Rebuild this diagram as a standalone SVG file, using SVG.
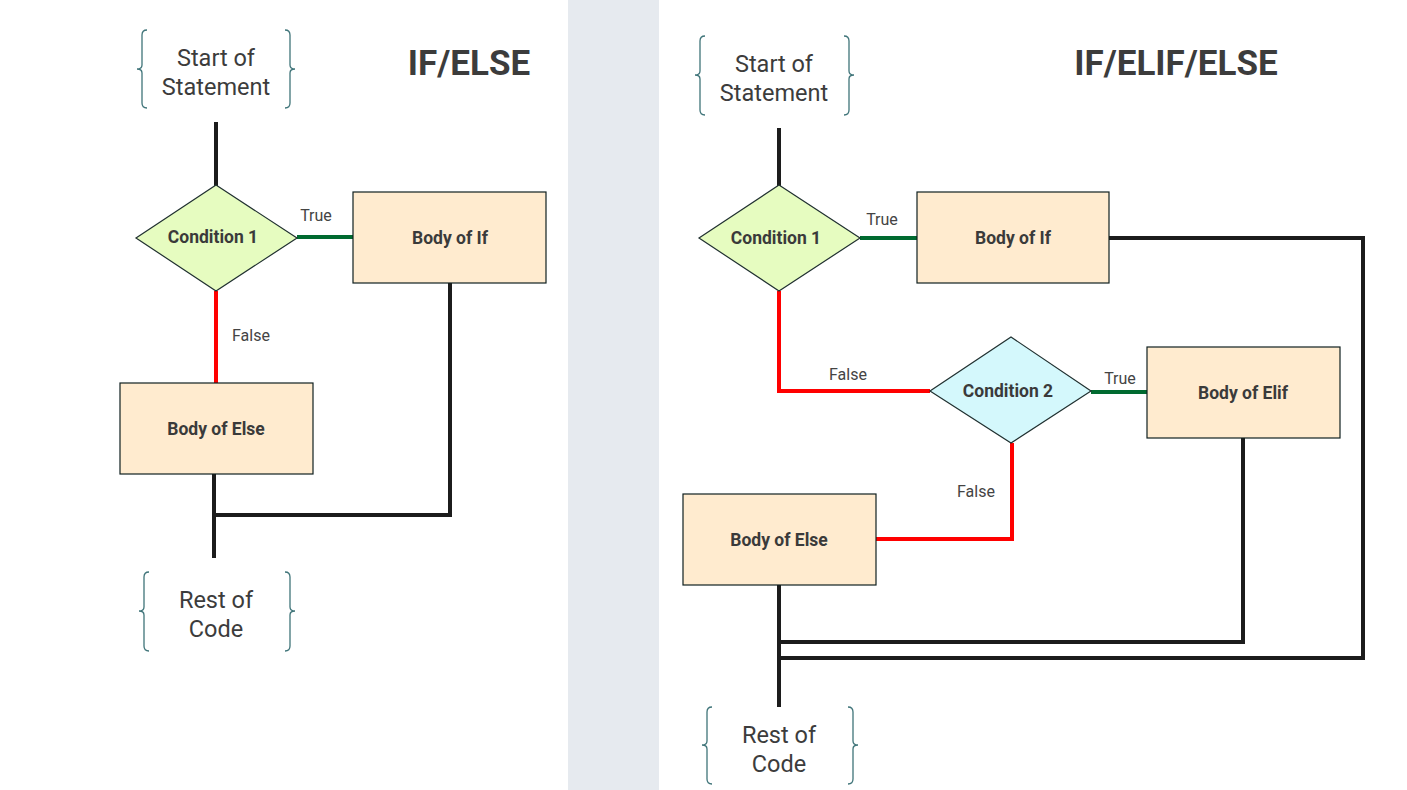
<svg xmlns="http://www.w3.org/2000/svg" width="1407" height="790" viewBox="0 0 1407 790">
<defs>
<style>
.bg{fill:#ffffff}
.band{fill:#e6eaef}
.brace{fill:none;stroke:#3f7479;stroke-width:1.3}
.term{font-family:Roboto,"Liberation Sans",sans-serif;font-size:23.5px;fill:#3c3c3c;text-anchor:middle}
.title{font-family:Roboto,"Liberation Sans",sans-serif;font-size:35px;font-weight:bold;fill:#3c3c3c;text-anchor:middle}
.lbl{font-family:Roboto,"Liberation Sans",sans-serif;font-size:17.5px;font-weight:bold;fill:#3a3a3a;text-anchor:middle;dominant-baseline:central}
.edge{font-family:Roboto,"Liberation Sans",sans-serif;font-size:16px;fill:#444;text-anchor:middle;dominant-baseline:central}
.box{fill:#ffebcf;stroke:#102020;stroke-width:1.2}
.dia1{fill:#e6fcc0;stroke:#203030;stroke-width:1.2}
.dia2{fill:#d4f8fc;stroke:#203030;stroke-width:1.2}
.blk{fill:none;stroke:#1c1c1c;stroke-width:4}
.red{fill:none;stroke:#ff0000;stroke-width:4}
.grn{fill:none;stroke:#006a30;stroke-width:4}
</style>
</defs>
<rect class="bg" x="0" y="0" width="1407" height="790"/>
<rect class="band" x="568" y="0" width="91" height="790"/>

<g id="connectors">
<line class="blk" x1="216" y1="122" x2="216" y2="186"/>
<line class="grn" x1="297" y1="237" x2="353" y2="237"/>
<line class="red" x1="216" y1="291" x2="216" y2="383"/>
<polyline class="blk" points="214,474 214,558"/>
<polyline class="blk" points="214,515 450,515 450,283"/>
<line class="blk" x1="779" y1="128" x2="779" y2="186"/>
<line class="grn" x1="860" y1="238" x2="917" y2="238"/>
<polyline class="blk" points="1109,238 1363,238 1363,658 779,658"/>
<polyline class="red" points="779,291 779,391 930,391"/>
<line class="grn" x1="1091" y1="392" x2="1147" y2="392"/>
<polyline class="blk" points="1243,438 1243,642 779,642"/>
<polyline class="red" points="1012,443 1012,539 876,539"/>
<line class="blk" x1="779" y1="585" x2="779" y2="707"/>
<text class="edge" x="316" y="215">True</text>
<text class="edge" x="251" y="335">False</text>
<text class="edge" x="882" y="219">True</text>
<text class="edge" x="848" y="374">False</text>
<text class="edge" x="1120" y="378">True</text>
<text class="edge" x="976" y="491">False</text>
</g>

<g id="title-left"><text class="title" x="469" y="75">IF/ELSE</text></g>
<g id="title-right"><text class="title" x="1176" y="75">IF/ELIF/ELSE</text></g>

<g id="start-left">
<path class="brace" d="M147 30 Q142 30 142 35 L142 65 Q142 69 137 69 Q142 69 142 73 L142 103 Q142 108 147 108"/>
<path class="brace" d="M285 30 Q290 30 290 35 L290 65 Q290 69 295 69 Q290 69 290 73 L290 103 Q290 108 285 108"/>
<text class="term" x="216" y="66">Start of</text>
<text class="term" x="216" y="95">Statement</text>
</g>
<g id="cond1-left">
<polygon class="dia1" points="216,185 297,238 216,291 136,238"/>
<text class="lbl" x="213" y="237">Condition 1</text>
</g>
<g id="if-left">
<rect class="box" x="353" y="192" width="193" height="91"/>
<text class="lbl" x="450" y="238">Body of If</text>
</g>
<g id="else-left">
<rect class="box" x="120" y="383" width="193" height="91"/>
<text class="lbl" x="216" y="429">Body of Else</text>
</g>
<g id="rest-left">
<path class="brace" d="M149 572 Q144 572 144 577 L144 607 Q144 611 139 611 Q144 611 144 615 L144 646 Q144 651 149 651"/>
<path class="brace" d="M285 572 Q290 572 290 577 L290 607 Q290 611 295 611 Q290 611 290 615 L290 646 Q290 651 285 651"/>
<text class="term" x="216" y="608">Rest of</text>
<text class="term" x="216" y="637">Code</text>
</g>

<g id="start-right">
<path class="brace" d="M705 36 Q700 36 700 41 L700 71 Q700 75 695 75 Q700 75 700 79 L700 110 Q700 115 705 115"/>
<path class="brace" d="M844 36 Q849 36 849 41 L849 71 Q849 75 854 75 Q849 75 849 79 L849 110 Q849 115 844 115"/>
<text class="term" x="774" y="72">Start of</text>
<text class="term" x="774" y="101">Statement</text>
</g>
<g id="cond1-right">
<polygon class="dia1" points="779,185 860,238 779,291 699,238"/>
<text class="lbl" x="776" y="238">Condition 1</text>
</g>
<g id="if-right">
<rect class="box" x="917" y="192" width="192" height="91"/>
<text class="lbl" x="1013" y="238">Body of If</text>
</g>
<g id="cond2-right">
<polygon class="dia2" points="1011,337 1091,391 1011,443 930,391"/>
<text class="lbl" x="1008" y="391">Condition 2</text>
</g>
<g id="elif-right">
<rect class="box" x="1147" y="347" width="193" height="91"/>
<text class="lbl" x="1243" y="393">Body of Elif</text>
</g>
<g id="else-right">
<rect class="box" x="683" y="494" width="193" height="91"/>
<text class="lbl" x="779" y="540">Body of Else</text>
</g>
<g id="rest-right">
<path class="brace" d="M712 707 Q707 707 707 712 L707 741 Q707 745 702 745 Q707 745 707 749 L707 779 Q707 784 712 784"/>
<path class="brace" d="M848 707 Q853 707 853 712 L853 741 Q853 745 858 745 Q853 745 853 749 L853 779 Q853 784 848 784"/>
<text class="term" x="779" y="743">Rest of</text>
<text class="term" x="779" y="772">Code</text>
</g>
</svg>
